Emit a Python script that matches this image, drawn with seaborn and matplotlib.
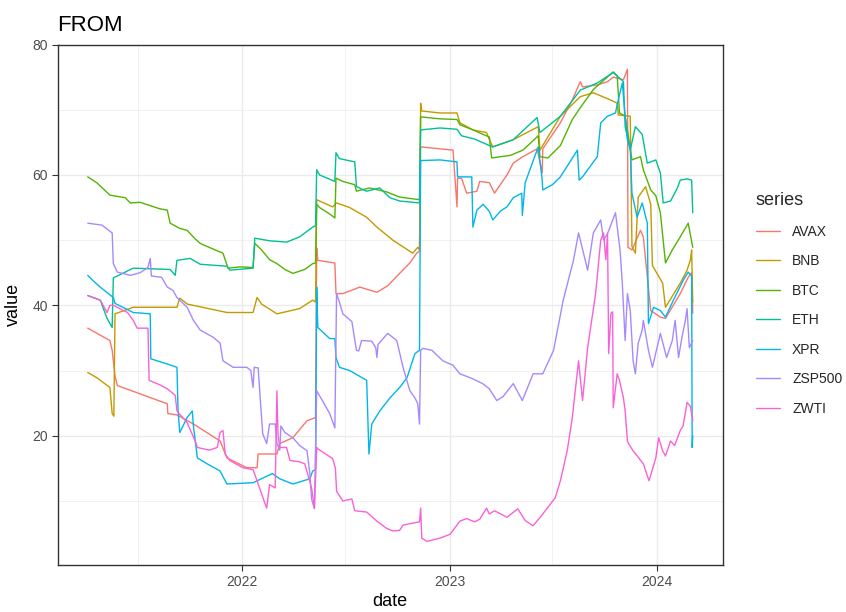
import matplotlib
matplotlib.use("Agg")
import matplotlib.pyplot as plt
import matplotlib.dates as mdates
from matplotlib.ticker import MultipleLocator
import pandas as pd
import seaborn as sns

SERIES = ["AVAX", "BNB", "BTC", "ETH", "XPR", "ZSP500", "ZWTI"]
COLORS = ["#F8766D", "#C49A00", "#53B400", "#00C094", "#00B6EB", "#A58AFF", "#FB61D7"]
Y_BREAKS = [20, 40, 60, 80]
X_BREAKS = ["2022-01-01", "2023-01-01", "2024-01-01"]
X_LABELS = ["2022", "2023", "2024"]

AVAX = [
    ("2021-04-04", 36.5), ("2021-05-13", 34.6), ("2021-05-17", 33.1), ("2021-05-22", 29.2),
    ("2021-05-26", 27.7), ("2021-08-22", 24.9), ("2021-08-23", 23.4), ("2021-09-08", 23.2),
    ("2021-10-07", 21.8), ("2021-11-23", 19.2), ("2021-12-05", 16.6), ("2022-01-09", 15.1),
    ("2022-01-27", 15.1), ("2022-01-29", 17.2), ("2022-03-03", 17.2), ("2022-03-08", 18.8),
    ("2022-03-31", 19.7), ("2022-04-25", 22.3), ("2022-05-10", 22.8), ("2022-05-12", 48.8),
    ("2022-05-14", 46.9), ("2022-06-13", 46.5), ("2022-06-15", 41.8), ("2022-06-27", 41.8),
    ("2022-07-27", 42.8), ("2022-08-26", 42.0), ("2022-09-14", 43.0), ("2022-10-05", 44.9),
    ("2022-10-23", 46.5), ("2022-11-04", 48.0), ("2022-11-09", 48.3), ("2022-11-11", 64.3),
    ("2022-12-15", 64.0), ("2023-01-07", 63.8), ("2023-01-14", 55.1), ("2023-01-15", 59.5),
    ("2023-01-22", 59.5), ("2023-01-31", 57.2), ("2023-02-18", 57.5), ("2023-02-23", 59.0),
    ("2023-03-12", 58.8), ("2023-03-21", 57.2), ("2023-04-12", 60.0), ("2023-04-23", 61.8),
    ("2023-05-10", 62.8), ("2023-06-04", 64.0), ("2023-06-13", 60.3), ("2023-06-14", 64.0),
    ("2023-07-15", 68.0), ("2023-08-05", 71.5), ("2023-08-19", 74.3), ("2023-08-23", 73.5),
    ("2023-09-18", 73.8), ("2023-10-06", 74.3), ("2023-10-16", 75.0), ("2023-11-03", 74.6),
    ("2023-11-10", 76.2), ("2023-11-11", 48.9), ("2023-11-18", 48.5), ("2023-12-03", 51.5),
    ("2023-12-08", 50.5), ("2023-12-21", 39.2), ("2024-01-07", 38.2), ("2024-01-16", 38.0),
    ("2024-02-11", 41.8), ("2024-02-25", 44.3), ("2024-03-02", 45.0), ("2024-03-04", 38.8),
]

BNB = [
    ("2021-04-04", 29.7), ("2021-04-20", 28.9), ("2021-05-13", 27.4), ("2021-05-17", 23.4),
    ("2021-05-20", 23.0), ("2021-05-22", 38.7), ("2021-06-23", 39.7), ("2021-09-08", 39.7),
    ("2021-09-13", 41.1), ("2021-09-26", 40.2), ("2021-12-05", 38.9), ("2022-01-20", 38.9),
    ("2022-01-27", 41.2), ("2022-02-04", 40.2), ("2022-03-03", 38.7), ("2022-04-12", 39.5),
    ("2022-05-05", 40.8), ("2022-05-10", 40.5), ("2022-05-12", 56.2), ("2022-06-09", 55.1),
    ("2022-06-16", 55.7), ("2022-07-09", 55.0), ("2022-08-08", 53.5), ("2022-08-26", 52.0),
    ("2022-09-23", 50.0), ("2022-10-28", 48.0), ("2022-11-06", 48.9), ("2022-11-09", 48.5),
    ("2022-11-11", 71.0), ("2022-11-13", 69.8), ("2022-12-15", 69.5), ("2023-01-14", 69.5),
    ("2023-01-19", 68.0), ("2023-02-11", 66.9), ("2023-03-07", 66.5), ("2023-03-12", 65.4),
    ("2023-03-18", 64.3), ("2023-04-23", 65.4), ("2023-06-06", 67.4), ("2023-06-09", 63.8),
    ("2023-07-15", 69.0), ("2023-08-19", 72.0), ("2023-09-11", 72.6), ("2023-10-11", 71.5),
    ("2023-10-23", 71.0), ("2023-10-25", 69.2), ("2023-11-15", 69.0), ("2023-11-18", 49.0),
    ("2023-11-24", 48.0), ("2023-11-29", 56.6), ("2023-12-12", 58.2), ("2023-12-21", 55.5),
    ("2023-12-24", 46.1), ("2024-01-11", 43.4), ("2024-01-16", 39.7), ("2024-02-11", 43.4),
    ("2024-02-23", 45.4), ("2024-02-29", 47.0), ("2024-03-02", 48.5), ("2024-03-04", 40.5),
]

BTC = [
    ("2021-04-04", 59.7), ("2021-04-20", 58.8), ("2021-05-13", 56.9), ("2021-06-09", 56.5),
    ("2021-06-18", 55.7), ("2021-07-05", 55.8), ("2021-08-09", 54.8), ("2021-08-22", 54.6),
    ("2021-08-27", 52.6), ("2021-09-13", 51.8), ("2021-09-26", 51.5), ("2021-10-10", 50.2),
    ("2021-10-19", 49.5), ("2021-11-14", 48.5), ("2021-11-28", 48.0), ("2021-12-07", 45.7),
    ("2021-12-28", 45.9), ("2022-01-20", 45.8), ("2022-01-23", 49.5), ("2022-02-04", 48.5),
    ("2022-02-18", 47.0), ("2022-03-03", 46.4), ("2022-03-17", 45.5), ("2022-03-31", 44.9),
    ("2022-04-21", 45.5), ("2022-05-05", 46.4), ("2022-05-10", 46.5), ("2022-05-12", 55.5),
    ("2022-05-17", 55.0), ("2022-06-04", 54.0), ("2022-06-13", 53.4), ("2022-06-15", 59.5),
    ("2022-06-27", 59.0), ("2022-07-18", 58.5), ("2022-07-21", 57.5), ("2022-08-13", 58.0),
    ("2022-09-12", 57.4), ("2022-10-05", 56.6), ("2022-11-09", 56.2), ("2022-11-11", 68.9),
    ("2022-12-15", 68.6), ("2023-01-14", 68.5), ("2023-01-19", 67.7), ("2023-02-11", 66.9),
    ("2023-03-12", 65.8), ("2023-03-16", 62.6), ("2023-04-18", 63.0), ("2023-05-10", 63.8),
    ("2023-06-06", 66.0), ("2023-06-09", 62.8), ("2023-06-23", 62.6), ("2023-07-15", 64.5),
    ("2023-08-05", 68.5), ("2023-08-19", 70.3), ("2023-09-11", 73.1), ("2023-10-16", 75.8),
    ("2023-10-23", 75.2), ("2023-10-27", 69.5), ("2023-11-06", 69.0), ("2023-11-10", 66.9),
    ("2023-11-18", 62.3), ("2023-12-03", 62.8), ("2023-12-08", 60.8), ("2023-12-21", 57.7),
    ("2023-12-30", 56.8), ("2024-01-07", 54.2), ("2024-01-16", 46.5), ("2024-01-28", 48.5),
    ("2024-02-11", 50.5), ("2024-02-25", 52.6), ("2024-03-04", 48.9),
]

ETH = [
    ("2021-04-04", 41.5), ("2021-04-26", 40.8), ("2021-05-08", 38.0), ("2021-05-17", 36.6),
    ("2021-05-19", 44.2), ("2021-06-23", 45.7), ("2021-08-27", 45.5), ("2021-09-05", 44.6),
    ("2021-09-08", 46.9), ("2021-10-01", 47.2), ("2021-10-19", 46.3), ("2021-12-05", 46.0),
    ("2021-12-10", 45.4), ("2022-01-20", 45.7), ("2022-01-23", 50.3), ("2022-02-18", 49.9),
    ("2022-03-20", 49.7), ("2022-04-12", 50.5), ("2022-05-05", 52.0), ("2022-05-10", 52.2),
    ("2022-05-12", 60.8), ("2022-05-17", 60.0), ("2022-06-13", 59.0), ("2022-06-15", 63.4),
    ("2022-06-21", 62.5), ("2022-07-18", 62.0), ("2022-07-21", 58.2), ("2022-08-08", 57.5),
    ("2022-08-31", 58.0), ("2022-09-18", 56.5), ("2022-10-05", 56.0), ("2022-11-09", 55.7),
    ("2022-11-11", 66.9), ("2022-12-15", 67.2), ("2023-01-14", 67.0), ("2023-01-22", 66.0),
    ("2023-02-14", 65.5), ("2023-03-12", 64.5), ("2023-03-18", 64.3), ("2023-04-23", 65.4),
    ("2023-06-04", 68.8), ("2023-06-09", 66.5), ("2023-07-15", 69.0), ("2023-08-19", 73.0),
    ("2023-09-18", 74.1), ("2023-10-16", 75.7), ("2023-11-03", 74.3), ("2023-11-06", 67.4),
    ("2023-11-15", 63.8), ("2023-11-24", 67.4), ("2023-12-06", 66.2), ("2023-12-15", 61.8),
    ("2023-12-30", 62.3), ("2024-01-07", 60.3), ("2024-01-12", 55.7), ("2024-01-25", 56.0),
    ("2024-02-06", 58.0), ("2024-02-11", 59.2), ("2024-02-23", 59.4), ("2024-03-02", 59.2),
    ("2024-03-04", 54.2),
]

XPR = [
    ("2021-04-04", 44.6), ("2021-04-13", 43.8), ("2021-04-26", 42.8), ("2021-05-19", 41.2),
    ("2021-05-22", 40.3), ("2021-06-23", 38.9), ("2021-07-23", 38.7), ("2021-07-24", 31.8),
    ("2021-08-22", 31.0), ("2021-09-08", 30.5), ("2021-09-10", 23.8), ("2021-09-13", 20.5),
    ("2021-09-26", 22.8), ("2021-10-05", 23.8), ("2021-10-07", 21.5), ("2021-10-14", 16.6),
    ("2021-10-31", 15.7), ("2021-11-23", 14.6), ("2021-12-05", 12.6), ("2022-01-20", 12.8),
    ("2022-02-23", 14.2), ("2022-03-08", 13.4), ("2022-03-31", 12.6), ("2022-04-30", 13.4),
    ("2022-05-05", 14.6), ("2022-05-10", 14.8), ("2022-05-12", 42.8), ("2022-05-14", 36.6),
    ("2022-06-04", 34.9), ("2022-06-13", 34.9), ("2022-06-15", 32.0), ("2022-06-21", 30.5),
    ("2022-07-09", 30.0), ("2022-08-08", 28.5), ("2022-08-12", 17.2), ("2022-08-17", 21.8),
    ("2022-08-31", 23.8), ("2022-09-18", 25.8), ("2022-10-05", 27.4), ("2022-10-18", 28.9),
    ("2022-11-01", 32.6), ("2022-11-09", 33.1), ("2022-11-11", 62.2), ("2022-12-15", 62.3),
    ("2023-01-14", 62.0), ("2023-01-15", 59.7), ("2023-02-09", 59.7), ("2023-02-11", 52.0),
    ("2023-02-18", 54.6), ("2023-03-01", 55.5), ("2023-03-12", 54.4), ("2023-03-18", 53.1),
    ("2023-04-01", 54.5), ("2023-04-12", 55.1), ("2023-04-23", 56.5), ("2023-05-08", 57.2),
    ("2023-05-09", 53.8), ("2023-05-14", 58.8), ("2023-06-06", 64.3), ("2023-06-13", 59.2),
    ("2023-06-14", 57.7), ("2023-07-01", 58.5), ("2023-07-15", 59.7), ("2023-08-14", 63.8),
    ("2023-08-17", 59.2), ("2023-08-23", 59.7), ("2023-09-18", 62.8), ("2023-09-24", 68.0),
    ("2023-10-06", 69.0), ("2023-10-20", 69.5), ("2023-10-23", 70.8), ("2023-11-01", 74.1),
    ("2023-11-06", 69.0), ("2023-11-10", 65.4), ("2023-11-15", 64.0), ("2023-11-18", 57.2),
    ("2023-11-27", 53.5), ("2023-12-06", 55.7), ("2023-12-15", 52.6), ("2023-12-17", 37.2),
    ("2023-12-26", 39.7), ("2024-01-07", 39.2), ("2024-01-16", 38.2), ("2024-01-30", 40.8),
    ("2024-02-16", 43.8), ("2024-02-25", 45.1), ("2024-03-02", 44.5), ("2024-03-03", 18.2),
    ("2024-03-04", 20.0),
]

ZSP500 = [
    ("2021-04-04", 52.6), ("2021-04-29", 52.3), ("2021-05-17", 51.1), ("2021-05-19", 46.4),
    ("2021-05-26", 45.1), ("2021-06-18", 44.6), ("2021-07-05", 45.0), ("2021-07-19", 45.8),
    ("2021-07-23", 47.2), ("2021-07-25", 44.5), ("2021-08-12", 44.3), ("2021-08-22", 42.8),
    ("2021-09-01", 42.3), ("2021-09-08", 41.2), ("2021-09-26", 39.7), ("2021-10-07", 37.7),
    ("2021-10-19", 36.2), ("2021-11-11", 35.1), ("2021-11-23", 34.2), ("2021-11-28", 31.5),
    ("2021-12-16", 30.5), ("2022-01-09", 30.5), ("2022-01-16", 30.0), ("2022-01-20", 27.4),
    ("2022-01-22", 30.5), ("2022-01-29", 30.4), ("2022-02-01", 26.5), ("2022-02-06", 20.3),
    ("2022-02-13", 18.8), ("2022-02-18", 21.8), ("2022-02-28", 21.8), ("2022-03-03", 18.8),
    ("2022-03-08", 17.8), ("2022-03-10", 21.5), ("2022-03-17", 20.5), ("2022-03-31", 19.7),
    ("2022-04-12", 18.5), ("2022-04-25", 17.7), ("2022-04-30", 14.2), ("2022-05-03", 10.3),
    ("2022-05-08", 8.8), ("2022-05-12", 26.9), ("2022-05-22", 25.4), ("2022-06-04", 23.4),
    ("2022-06-13", 21.2), ("2022-06-16", 41.8), ("2022-06-21", 40.5), ("2022-06-27", 38.7),
    ("2022-07-13", 37.5), ("2022-07-21", 33.1), ("2022-07-25", 33.0), ("2022-07-30", 34.6),
    ("2022-08-17", 34.5), ("2022-08-24", 33.5), ("2022-08-26", 32.0), ("2022-08-28", 34.0),
    ("2022-09-14", 35.7), ("2022-09-30", 34.6), ("2022-10-11", 30.5), ("2022-10-23", 26.9),
    ("2022-11-01", 25.8), ("2022-11-06", 24.9), ("2022-11-09", 21.8), ("2022-11-11", 33.1),
    ("2022-11-15", 33.4), ("2022-12-01", 33.1), ("2022-12-20", 31.5), ("2023-01-07", 30.8),
    ("2023-01-19", 29.5), ("2023-02-09", 28.8), ("2023-02-28", 28.0), ("2023-03-12", 27.2),
    ("2023-03-25", 25.4), ("2023-04-05", 26.0), ("2023-04-23", 28.0), ("2023-05-09", 25.4),
    ("2023-05-28", 29.5), ("2023-06-14", 29.5), ("2023-07-03", 33.1), ("2023-07-20", 40.8),
    ("2023-08-07", 46.9), ("2023-08-16", 51.1), ("2023-09-01", 45.4), ("2023-09-11", 51.1),
    ("2023-09-24", 53.1), ("2023-09-29", 50.0), ("2023-10-06", 51.0), ("2023-10-20", 54.2),
    ("2023-10-28", 48.5), ("2023-11-01", 43.4), ("2023-11-06", 34.6), ("2023-11-10", 41.8),
    ("2023-11-15", 39.2), ("2023-11-20", 31.5), ("2023-11-24", 29.5), ("2023-11-29", 34.2),
    ("2023-12-06", 36.2), ("2023-12-08", 37.7), ("2023-12-17", 33.1), ("2023-12-24", 30.5),
    ("2024-01-07", 35.7), ("2024-01-18", 32.0), ("2024-01-28", 34.6), ("2024-02-02", 37.7),
    ("2024-02-08", 32.0), ("2024-02-14", 35.1), ("2024-02-20", 37.7), ("2024-02-23", 39.5),
    ("2024-02-27", 33.5), ("2024-03-04", 34.6),
]

ZWTI = [
    ("2021-04-04", 41.5), ("2021-04-26", 40.8), ("2021-05-08", 38.9), ("2021-05-13", 40.0),
    ("2021-05-19", 40.0), ("2021-06-13", 38.9), ("2021-06-23", 37.7), ("2021-06-30", 36.5),
    ("2021-07-19", 36.5), ("2021-07-21", 28.5), ("2021-08-09", 27.8), ("2021-08-22", 27.2),
    ("2021-09-05", 26.2), ("2021-09-08", 23.8), ("2021-09-26", 22.0), ("2021-10-10", 19.2),
    ("2021-10-14", 18.2), ("2021-11-04", 17.8), ("2021-11-18", 18.2), ("2021-11-23", 20.5),
    ("2021-11-28", 20.8), ("2021-12-02", 17.2), ("2021-12-10", 16.2), ("2022-01-02", 15.1),
    ("2022-01-20", 14.8), ("2022-01-27", 13.1), ("2022-02-04", 11.1), ("2022-02-13", 8.9),
    ("2022-02-18", 12.5), ("2022-02-28", 12.0), ("2022-03-03", 26.9), ("2022-03-05", 20.0),
    ("2022-03-08", 18.2), ("2022-03-20", 18.2), ("2022-03-26", 16.2), ("2022-04-12", 16.0),
    ("2022-04-21", 15.7), ("2022-05-03", 12.0), ("2022-05-08", 8.9), ("2022-05-12", 18.2),
    ("2022-05-14", 18.0), ("2022-06-09", 16.5), ("2022-06-14", 15.0), ("2022-06-16", 11.5),
    ("2022-06-27", 10.0), ("2022-07-13", 10.3), ("2022-07-18", 8.5), ("2022-08-08", 8.3),
    ("2022-08-26", 6.9), ("2022-09-12", 5.8), ("2022-09-23", 5.4), ("2022-10-05", 5.5),
    ("2022-10-11", 6.3), ("2022-10-28", 6.6), ("2022-11-09", 6.8), ("2022-11-11", 8.9),
    ("2022-11-13", 4.3), ("2022-11-22", 3.8), ("2022-12-15", 4.3), ("2023-01-02", 4.9),
    ("2023-01-07", 5.5), ("2023-01-19", 6.9), ("2023-01-31", 7.3), ("2023-02-14", 6.8),
    ("2023-02-23", 7.2), ("2023-03-07", 8.9), ("2023-03-12", 8.0), ("2023-03-21", 8.5),
    ("2023-04-12", 7.5), ("2023-05-01", 8.8), ("2023-05-14", 7.0), ("2023-05-28", 6.2),
    ("2023-06-14", 8.0), ("2023-07-06", 10.5), ("2023-07-15", 13.1), ("2023-07-27", 17.7),
    ("2023-08-05", 22.8), ("2023-08-16", 31.5), ("2023-08-23", 25.4), ("2023-09-01", 33.5),
    ("2023-09-15", 41.8), ("2023-09-24", 50.0), ("2023-09-29", 51.1), ("2023-10-03", 47.0),
    ("2023-10-06", 51.0), ("2023-10-08", 32.6), ("2023-10-12", 38.8), ("2023-10-15", 39.0),
    ("2023-10-16", 24.3), ("2023-10-23", 29.5), ("2023-10-27", 28.5), ("2023-11-03", 25.8),
    ("2023-11-06", 23.8), ("2023-11-10", 19.2), ("2023-11-12", 18.8), ("2023-11-20", 17.7),
    ("2023-12-08", 15.7), ("2023-12-18", 13.1), ("2023-12-30", 16.6), ("2024-01-04", 19.7),
    ("2024-01-11", 17.7), ("2024-01-16", 16.9), ("2024-01-25", 19.2), ("2024-02-01", 18.5),
    ("2024-02-11", 20.8), ("2024-02-16", 21.5), ("2024-02-23", 25.1), ("2024-02-29", 24.5),
    ("2024-03-04", 22.3),
]

# Long-format table: one row per (date, series)
frames = []
for name, pts in zip(SERIES, [AVAX, BNB, BTC, ETH, XPR, ZSP500, ZWTI]):
    part = pd.DataFrame(pts, columns=["date", "value"])
    part["series"] = name
    frames.append(part)
df = pd.concat(frames, ignore_index=True)
df["date"] = pd.to_datetime(df["date"])

sns.set_theme(style="whitegrid")
plt.rcParams["font.family"] = ["Liberation Sans", "DejaVu Sans"]

fig = plt.figure(figsize=(8.46, 6.12), dpi=100)
ax = fig.add_axes([57.5 / 846, 1 - 565 / 612, (723 - 57.5) / 846, (565 - 44.5) / 612])

sns.lineplot(data=df, x="date", y="value", hue="series", hue_order=SERIES,
             palette=COLORS, estimator=None, sort=False, linewidth=1.0, ax=ax)

# ggplot-style 5% expansion of the data range
dmin, dmax = df["date"].min(), df["date"].max()
dpad = (dmax - dmin) * 0.05
ax.set_xlim(dmin - dpad, dmax + dpad)
vmin, vmax = df["value"].min(), df["value"].max()
vpad = (vmax - vmin) * 0.05
ax.set_ylim(vmin - vpad, vmax + vpad)

ax.set_xticks(pd.to_datetime(X_BREAKS))
ax.set_xticklabels(X_LABELS)
ax.xaxis.set_minor_locator(mdates.MonthLocator(bymonth=7))
ax.set_yticks(Y_BREAKS)
ax.yaxis.set_minor_locator(MultipleLocator(10))

ax.set_facecolor("white")
ax.set_axisbelow(True)
ax.grid(which="major", color="#EBEBEB", linewidth=1.0)
ax.grid(which="minor", color="#EBEBEB", linewidth=0.5)
for sp in ax.spines.values():
    sp.set_visible(True)
    sp.set_color("#333333")
    sp.set_linewidth(1.0)

ax.tick_params(which="major", length=4, width=0.8, color="#333333",
               labelcolor="#4D4D4D", labelsize=10, pad=3, bottom=True, left=True)
ax.tick_params(which="minor", length=0)

ax.set_xlabel("date", fontsize=13, color="black", labelpad=3)
ax.set_ylabel("value", fontsize=13, color="black", labelpad=7)
ax.set_title("FROM", loc="left", fontsize=16, color="black", pad=10)

handles, labels = ax.get_legend_handles_labels()
ax.get_legend().remove()
leg = fig.legend(handles, labels, title="series", loc="upper left",
                 bbox_to_anchor=(749 / 846, 1 - 185 / 612), frameon=False,
                 fontsize=10, title_fontsize=13, handlelength=1.7,
                 handletextpad=0.9, labelspacing=1.12, borderpad=0,
                 alignment="left")
for line in leg.get_lines():
    line.set_linewidth(1.0)

fig.savefig("out.png", dpi=100, facecolor="white")
